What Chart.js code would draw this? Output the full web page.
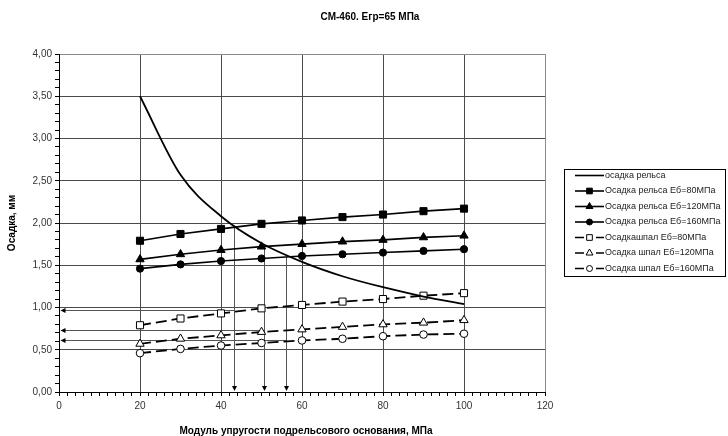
<!DOCTYPE html>
<html>
<head>
<meta charset="utf-8">
<script src="https://cdn.jsdelivr.net/npm/chart.js@4"></script>
<style>
  body { margin: 0; background: #fff; }
  #wrap { width: 728px; height: 436px; }
</style>
</head>
<body>
<div id="wrap"><canvas id="settleChart" width="728" height="436"></canvas></div>
<script>
// модуль упругости подрельсового основания, МПа
const moduli = [20, 30, 40, 50, 60, 70, 80, 90, 100];

// осадки, мм
const railSettle = [3.50, 2.57, 2.08, 1.76, 1.54, 1.37, 1.24, 1.13, 1.04];
const rail80 = [1.79, 1.87, 1.93, 1.99, 2.03, 2.07, 2.10, 2.14, 2.17];
const rail120 = [1.57, 1.63, 1.68, 1.72, 1.75, 1.78, 1.80, 1.83, 1.85];
const rail160 = [1.46, 1.51, 1.55, 1.58, 1.61, 1.63, 1.65, 1.67, 1.69];
const sleeper80 = [0.79, 0.87, 0.93, 0.99, 1.03, 1.07, 1.10, 1.14, 1.17];
const sleeper120 = [0.57, 0.63, 0.67, 0.71, 0.74, 0.77, 0.80, 0.82, 0.85];
const sleeper160 = [0.46, 0.51, 0.55, 0.58, 0.61, 0.63, 0.66, 0.68, 0.69];

// точки пересечения и выноски к осям
const arrowX = [43.1, 50.7, 56.1];
const arrowTop = [1.97, 1.73, 1.60];
const arrowLevel = [0.97, 0.73, 0.62];

const FONT = '"Liberation Sans", Arial, sans-serif';

function pts(values) {
  return moduli.map((m, i) => ({ x: m, y: values[i] }));
}

const series = [
  { label: 'осадка рельса', data: railSettle, marker: false, dash: [], fill: '#000' },
  { label: 'Осадка рельса Еб=80МПа', data: rail80, marker: 'rect', radius: 5, dash: [], fill: '#000' },
  { label: 'Осадка рельса Еб=120МПа', data: rail120, marker: 'triangle', radius: 4.8, dash: [], fill: '#000' },
  { label: 'Осадка рельса Еб=160МПа', data: rail160, marker: 'circle', radius: 3.6, dash: [], fill: '#000' },
  { label: 'Осадкашпал Еб=80МПа', data: sleeper80, marker: 'rect', radius: 5, dash: [11, 5], fill: '#fff' },
  { label: 'Осадка шпал Еб=120МПа', data: sleeper120, marker: 'triangle', radius: 4.8, dash: [11, 5], fill: '#fff' },
  { label: 'Осадка шпал Еб=160МПа', data: sleeper160, marker: 'circle', radius: 3.8, dash: [11, 5], fill: '#fff' }
];

const datasets = series.map(s => ({
  label: s.label,
  data: pts(s.data),
  borderColor: '#000',
  borderWidth: s.marker ? (s.dash.length ? 1.8 : 1.6) : 1.8,
  borderDash: s.dash,
  cubicInterpolationMode: s.marker ? 'default' : 'monotone',
  pointStyle: s.marker || 'circle',
  pointRadius: s.marker ? s.radius : 0,
  pointHoverRadius: s.marker ? s.radius : 0,
  pointBackgroundColor: s.fill,
  pointBorderColor: '#000',
  pointBorderWidth: 1,
  fill: false
}));

function isMajor(v, step) {
  return Math.abs(v / step - Math.round(v / step)) < 1e-6;
}

// выноски со стрелками к осям
const arrowPlugin = {
  id: 'arrows',
  beforeDatasetsDraw(chart) {
    const { ctx, scales: { x, y } } = chart;
    ctx.save();
    ctx.strokeStyle = '#555';
    ctx.fillStyle = '#000';
    ctx.lineWidth = 1;
    arrowX.forEach((v, i) => {
      const px = Math.round(x.getPixelForValue(v)) + 0.5;
      const top = y.getPixelForValue(arrowTop[i]);
      const bottom = y.getPixelForValue(0);
      const py = Math.round(y.getPixelForValue(arrowLevel[i])) + 0.5;
      const left = x.getPixelForValue(0);
      ctx.beginPath();
      ctx.moveTo(px, top);
      ctx.lineTo(px, bottom - 5);
      ctx.moveTo(px, py);
      ctx.lineTo(left + 5, py);
      ctx.stroke();
      ctx.beginPath();
      ctx.moveTo(px, bottom - 1);
      ctx.lineTo(px - 2.5, bottom - 6);
      ctx.lineTo(px + 2.5, bottom - 6);
      ctx.closePath();
      ctx.fill();
      ctx.beginPath();
      ctx.moveTo(left + 1.5, py);
      ctx.lineTo(left + 6.5, py - 2.5);
      ctx.lineTo(left + 6.5, py + 2.5);
      ctx.closePath();
      ctx.fill();
    });
    ctx.restore();
  }
};

// заголовки и легенда
const textPlugin = {
  id: 'texts',
  afterDraw(chart) {
    const { ctx, chartArea } = chart;
    ctx.save();
    ctx.fillStyle = '#000';
    ctx.textBaseline = 'middle';
    ctx.textAlign = 'center';
    ctx.font = 'bold 10px ' + FONT;
    ctx.fillText('СМ-460. Егр=65 МПа', 370, 17);
    ctx.fillText('Модуль упругости подрельсового основания, МПа', 306, 431);
    ctx.save();
    ctx.translate(12, (chartArea.top + chartArea.bottom) / 2);
    ctx.rotate(-Math.PI / 2);
    ctx.fillText('Осадка, мм', 0, 0);
    ctx.restore();

    // легенда
    const bx = 564.5, by = 169.5, bw = 161, bh = 107;
    ctx.strokeStyle = '#000';
    ctx.lineWidth = 1;
    ctx.strokeRect(bx, by, bw, bh);
    ctx.textAlign = 'left';
    ctx.font = '9px ' + FONT;
    const x0 = 575, x1 = 604, xm = 589.5;
    series.forEach((s, i) => {
      const yy = 175.5 + i * 15.5;
      ctx.strokeStyle = '#000';
      ctx.lineWidth = 1.6;
      ctx.beginPath();
      if (s.dash.length) {
        ctx.moveTo(x0, yy); ctx.lineTo(x0 + 9, yy);
        ctx.moveTo(x1 - 8, yy); ctx.lineTo(x1, yy);
      } else {
        ctx.moveTo(x0, yy); ctx.lineTo(x1, yy);
      }
      ctx.stroke();
      if (s.marker) {
        ctx.lineWidth = 1;
        ctx.fillStyle = s.fill;
        Chart.helpers.drawPoint(ctx, {
          pointStyle: s.marker,
          radius: s.marker === 'rect' ? 4 : s.marker === 'triangle' ? 4 : 3,
          rotation: 0,
          borderWidth: 1
        }, xm, yy);
      }
      ctx.fillStyle = '#222';
      ctx.fillText(s.label, 605, yy);
    });
    ctx.restore();
  }
};

new Chart(document.getElementById('settleChart'), {
  type: 'line',
  data: { datasets },
  options: {
    responsive: false,
    animation: false,
    events: [],
    layout: { padding: { left: 0, right: 183, top: 54, bottom: 0 } },
    plugins: {
      legend: { display: false },
      title: { display: false },
      tooltip: { enabled: false }
    },
    scales: {
      x: {
        type: 'linear',
        min: 0,
        max: 120,
        afterFit(scale) { scale.height = 44; },
        border: { color: '#000', width: 1 },
        grid: {
          color(c) {
            const v = c.tick.value;
            if (v === 0 || !isMajor(v, 20)) return 'rgba(0,0,0,0)';
            return v === 120 ? '#8a8a8a' : '#4a4a4a';
          },
          tickColor: '#000',
          tickLength: 4,
          lineWidth: 1
        },
        ticks: {
          stepSize: 2,
          autoSkip: false,
          maxRotation: 0,
          padding: 4,
          color: '#333',
          font: { family: FONT, size: 10 },
          callback: v => (isMajor(v, 20) ? String(Math.round(v)) : '')
        }
      },
      y: {
        min: 0,
        max: 4,
        afterFit(scale) { scale.width = 59; },
        border: { color: '#000', width: 1 },
        grid: {
          color(c) {
            const v = c.tick.value;
            if (v < 0.01 || !isMajor(v, 0.5)) return 'rgba(0,0,0,0)';
            return v > 3.99 ? '#8a8a8a' : '#4a4a4a';
          },
          tickColor: '#000',
          tickLength: 4,
          lineWidth: 1
        },
        ticks: {
          stepSize: 0.1,
          autoSkip: false,
          padding: 3,
          color: '#333',
          font: { family: FONT, size: 10 },
          callback: v => (isMajor(v, 0.5) ? v.toFixed(2).replace('.', ',') : '')
        }
      }
    }
  },
  plugins: [arrowPlugin, textPlugin]
});
</script>
</body>
</html>
